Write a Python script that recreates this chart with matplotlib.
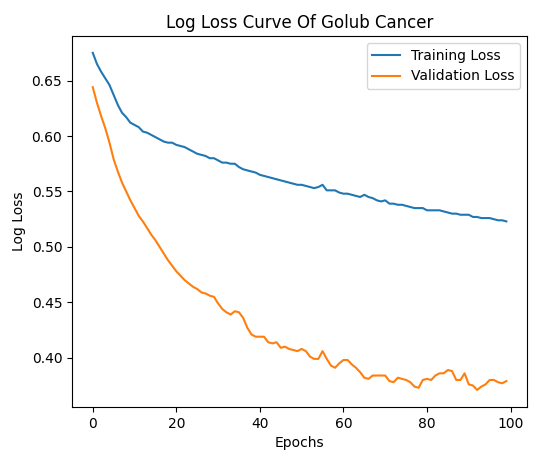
import matplotlib
matplotlib.use("Agg")
import matplotlib.pyplot as plt

epochs = list(range(100))

training_loss = [
    0.675, 0.665, 0.658, 0.652, 0.646, 0.637, 0.628, 0.621, 0.617, 0.612,
    0.610, 0.608, 0.604, 0.603, 0.601, 0.599, 0.597, 0.595, 0.594, 0.594,
    0.592, 0.591, 0.590, 0.588, 0.586, 0.584, 0.583, 0.582, 0.580, 0.580,
    0.578, 0.576, 0.576, 0.575, 0.575, 0.572, 0.570, 0.569, 0.568, 0.567,
    0.565, 0.564, 0.563, 0.562, 0.561, 0.560, 0.559, 0.558, 0.557, 0.556,
    0.556, 0.555, 0.554, 0.553, 0.554, 0.556, 0.551, 0.551, 0.551, 0.549,
    0.548, 0.548, 0.547, 0.546, 0.545, 0.547, 0.545, 0.544, 0.542, 0.541,
    0.542, 0.539, 0.539, 0.538, 0.538, 0.537, 0.536, 0.535, 0.535, 0.535,
    0.533, 0.533, 0.533, 0.533, 0.532, 0.531, 0.530, 0.530, 0.529, 0.529,
    0.529, 0.527, 0.527, 0.526, 0.526, 0.526, 0.525, 0.524, 0.524, 0.523,
]

validation_loss = [
    0.644, 0.630, 0.618, 0.607, 0.594, 0.579, 0.568, 0.558, 0.550, 0.542,
    0.535, 0.528, 0.523, 0.517, 0.511, 0.506, 0.500, 0.494, 0.488, 0.483,
    0.478, 0.474, 0.470, 0.467, 0.464, 0.462, 0.459, 0.458, 0.456, 0.455,
    0.449, 0.444, 0.441, 0.439, 0.442, 0.441, 0.436, 0.427, 0.421, 0.419,
    0.419, 0.419, 0.414, 0.413, 0.414, 0.409, 0.410, 0.408, 0.407, 0.406,
    0.408, 0.406, 0.401, 0.399, 0.399, 0.406, 0.399, 0.393, 0.391, 0.395,
    0.398, 0.398, 0.394, 0.391, 0.387, 0.382, 0.381, 0.384, 0.384, 0.384,
    0.384, 0.379, 0.378, 0.382, 0.381, 0.380, 0.378, 0.374, 0.373, 0.380,
    0.381, 0.380, 0.384, 0.386, 0.386, 0.389, 0.388, 0.380, 0.380, 0.386,
    0.376, 0.375, 0.371, 0.374, 0.376, 0.380, 0.380, 0.378, 0.377, 0.379,
]

fig = plt.figure(figsize=(5.34, 4.5), dpi=100)
ax = fig.add_axes([0.135, 0.096, 0.852, 0.824])
ax.plot(epochs, training_loss, color="#1f77b4", label="Training Loss")
ax.plot(epochs, validation_loss, color="#ff7f0e", label="Validation Loss")
ax.set_title("Log Loss Curve Of Golub Cancer")
ax.set_xlabel("Epochs")
ax.set_ylabel("Log Loss")
ax.legend(loc="upper right")
fig.savefig("out.png", dpi=100)
